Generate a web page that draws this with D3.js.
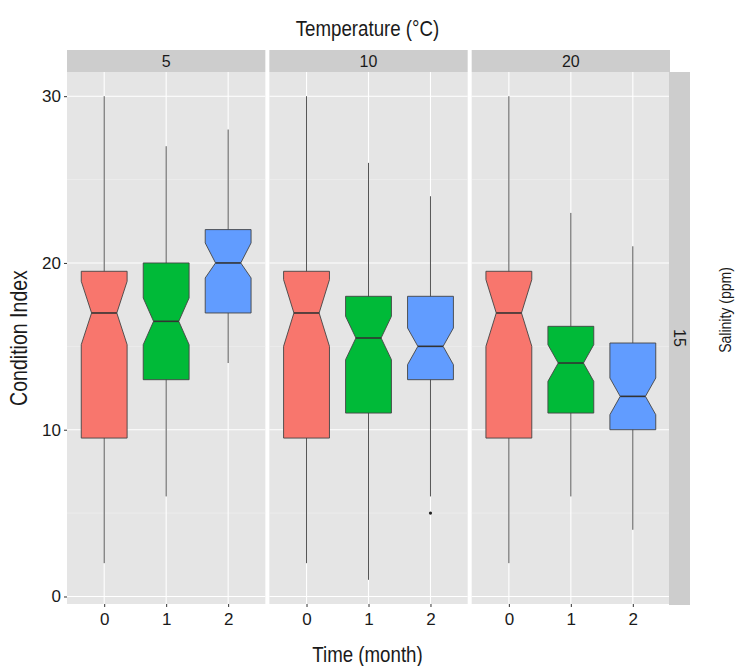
<!DOCTYPE html>
<html>
<head>
<meta charset="utf-8">
<script src="https://cdn.jsdelivr.net/npm/d3@7"></script>
<style>
    body { margin: 0; background: #fff; }
    text { font-family: "Liberation Sans", Arial, sans-serif; fill: #1a1a1a; }
</style>
</head>
<body>
<svg id="chart" width="735" height="666"></svg>
<script>
// facets (temperature) and x categories (time)
const temps = ["5", "10", "20"];
const months = ["0", "1", "2"];
const salinity = "15";
const yTicks = [0, 10, 20, 30];
const yMinor = [5, 15, 25];

// box stats, one row per temperature, one entry per month
const whiskerLow = [[2, 6, 14], [2, 1, 6], [2, 6, 4]];
const q1 = [[9.5, 13, 17], [9.5, 11, 13], [9.5, 11, 10]];
const medians = [[17, 16.5, 20], [17, 15.5, 15], [17, 14, 12]];
const q3 = [[19.5, 20, 22], [19.5, 18, 18], [19.5, 16.2, 15.2]];
const whiskerHigh = [[30, 27, 28], [30, 26, 24], [30, 23, 21]];
const notchLow = [[15.1, 15.1, 19.1], [15, 14.2, 13.9], [15, 12.9, 10.9]];
const notchHigh = [[18.9, 17.9, 21.2], [19, 16.8, 16.1], [19, 15.1, 13.1]];
const outliers = [[[], [], []], [[], [], [5]], [[], [], []]];

const colors = ["#F8766D", "#00BA38", "#619CFF"];

const svg = d3.select("#chart");

const plotLeft = 67,
    plotRight = 668,
    plotTop = 72,
    plotBottom = 604,
    gap = 3;
const panelW = (plotRight - plotLeft - gap * 2) / 3;

const y = d3.scaleLinear().domain([-0.45, 31.45]).range([plotBottom, plotTop]);
const fx = d3
    .scaleBand()
    .domain(temps)
    .range([plotLeft, plotRight + gap])
    .paddingInner(gap / (panelW + gap));
const x = d3
    .scalePoint()
    .domain(months)
    .range([0, panelW])
    .padding(0.6);
const boxW = x.step() * 0.74;
const notchFrac = 0.55;

// condensed-looking titles: squeeze text horizontally
function title(txt, tx, ty, rot, size) {
    svg.append("text")
        .attr("transform", `translate(${tx},${ty}) rotate(${rot}) scale(0.85,1)`)
        .attr("text-anchor", "middle")
        .style("font-size", size + "px")
        .text(txt);
}

title("Temperature (°C)", (plotLeft + plotRight) / 2, 36, 0, 22);

temps.forEach((t, i) => {
    const g = svg
        .append("g")
        .attr("transform", `translate(${fx(t)},0)`);

    // strip
    g.append("rect")
        .attr("x", 0)
        .attr("y", 50)
        .attr("width", panelW)
        .attr("height", plotTop - 50)
        .attr("fill", "#cdcdcd");
    g.append("text")
        .attr("x", panelW / 2)
        .attr("y", 67)
        .attr("text-anchor", "middle")
        .style("font-size", "16px")
        .text(t);

    // panel
    g.append("rect")
        .attr("x", 0)
        .attr("y", plotTop)
        .attr("width", panelW)
        .attr("height", plotBottom - plotTop)
        .attr("fill", "#e5e5e5");
    g.selectAll(".minor")
        .data(yMinor)
        .enter()
        .append("line")
        .attr("x1", 0)
        .attr("x2", panelW)
        .attr("y1", (d) => y(d))
        .attr("y2", (d) => y(d))
        .attr("stroke", "#f2f2f2")
        .attr("stroke-width", 0.6);
    g.selectAll(".major")
        .data(yTicks)
        .enter()
        .append("line")
        .attr("x1", 0)
        .attr("x2", panelW)
        .attr("y1", (d) => y(d))
        .attr("y2", (d) => y(d))
        .attr("stroke", "#fff")
        .attr("stroke-width", 1.1);
    g.selectAll(".vgrid")
        .data(months)
        .enter()
        .append("line")
        .attr("x1", (d) => x(d))
        .attr("x2", (d) => x(d))
        .attr("y1", plotTop)
        .attr("y2", plotBottom)
        .attr("stroke", "#fff")
        .attr("stroke-width", 1.1);

    months.forEach((m, j) => {
        const cx = x(m);
        const hw = boxW / 2;
        const nw = hw * notchFrac;

        // whisker
        g.append("line")
            .attr("x1", cx)
            .attr("x2", cx)
            .attr("y1", y(whiskerLow[i][j]))
            .attr("y2", y(whiskerHigh[i][j]))
            .attr("stroke", "#555")
            .attr("stroke-width", 1);

        // notched box
        const pts = [
            [cx - hw, y(q3[i][j])],
            [cx + hw, y(q3[i][j])],
            [cx + hw, y(notchHigh[i][j])],
            [cx + nw, y(medians[i][j])],
            [cx + hw, y(notchLow[i][j])],
            [cx + hw, y(q1[i][j])],
            [cx - hw, y(q1[i][j])],
            [cx - hw, y(notchLow[i][j])],
            [cx - nw, y(medians[i][j])],
            [cx - hw, y(notchHigh[i][j])],
        ];
        g.append("path")
            .attr("d", d3.line()(pts) + "Z")
            .attr("fill", colors[j])
            .attr("stroke", "#444")
            .attr("stroke-width", 0.9);
        g.append("line")
            .attr("x1", cx - nw)
            .attr("x2", cx + nw)
            .attr("y1", y(medians[i][j]))
            .attr("y2", y(medians[i][j]))
            .attr("stroke", "#333")
            .attr("stroke-width", 1.6);

        g.selectAll(null)
            .data(outliers[i][j])
            .enter()
            .append("circle")
            .attr("cx", cx)
            .attr("cy", (d) => y(d))
            .attr("r", 1.6)
            .attr("fill", "#222");
    });

    // x axis
    const xAxis = g
        .append("g")
        .attr("transform", `translate(0,${plotBottom})`)
        .call(d3.axisBottom(x).tickSize(3).tickPadding(6));
    xAxis.select(".domain").remove();
    xAxis.selectAll("line").attr("stroke", "#333");
    xAxis
        .selectAll("text")
        .style("font-size", "17px")
        .style("font-family", "Liberation Sans, Arial, sans-serif")
        .attr("fill", "#1a1a1a");
});

// right strip
svg.append("rect")
    .attr("x", plotRight + 1)
    .attr("y", plotTop)
    .attr("width", 21)
    .attr("height", plotBottom - plotTop + 1)
    .attr("fill", "#cdcdcd");
svg.append("text")
    .attr("transform", `translate(${plotRight + 6},${(plotTop + plotBottom) / 2}) rotate(90)`)
    .attr("text-anchor", "middle")
    .style("font-size", "16px")
    .text(salinity);

// y axis
const yAxis = svg
    .append("g")
    .attr("transform", `translate(${plotLeft},0)`)
    .call(d3.axisLeft(y).tickValues(yTicks).tickSize(3).tickPadding(3));
yAxis.select(".domain").remove();
yAxis.selectAll("line").attr("stroke", "#333");
yAxis
    .selectAll("text")
    .style("font-size", "17px")
    .style("font-family", "Liberation Sans, Arial, sans-serif")
    .attr("fill", "#1a1a1a");

// axis titles
title("Time (month)", (plotLeft + plotRight) / 2, 662, 0, 22);
title("Condition Index", 27, (plotTop + plotBottom) / 2, -90, 23);
title("Salinity (ppm)", 731, 310, -90, 16.5);
</script>
</body>
</html>
